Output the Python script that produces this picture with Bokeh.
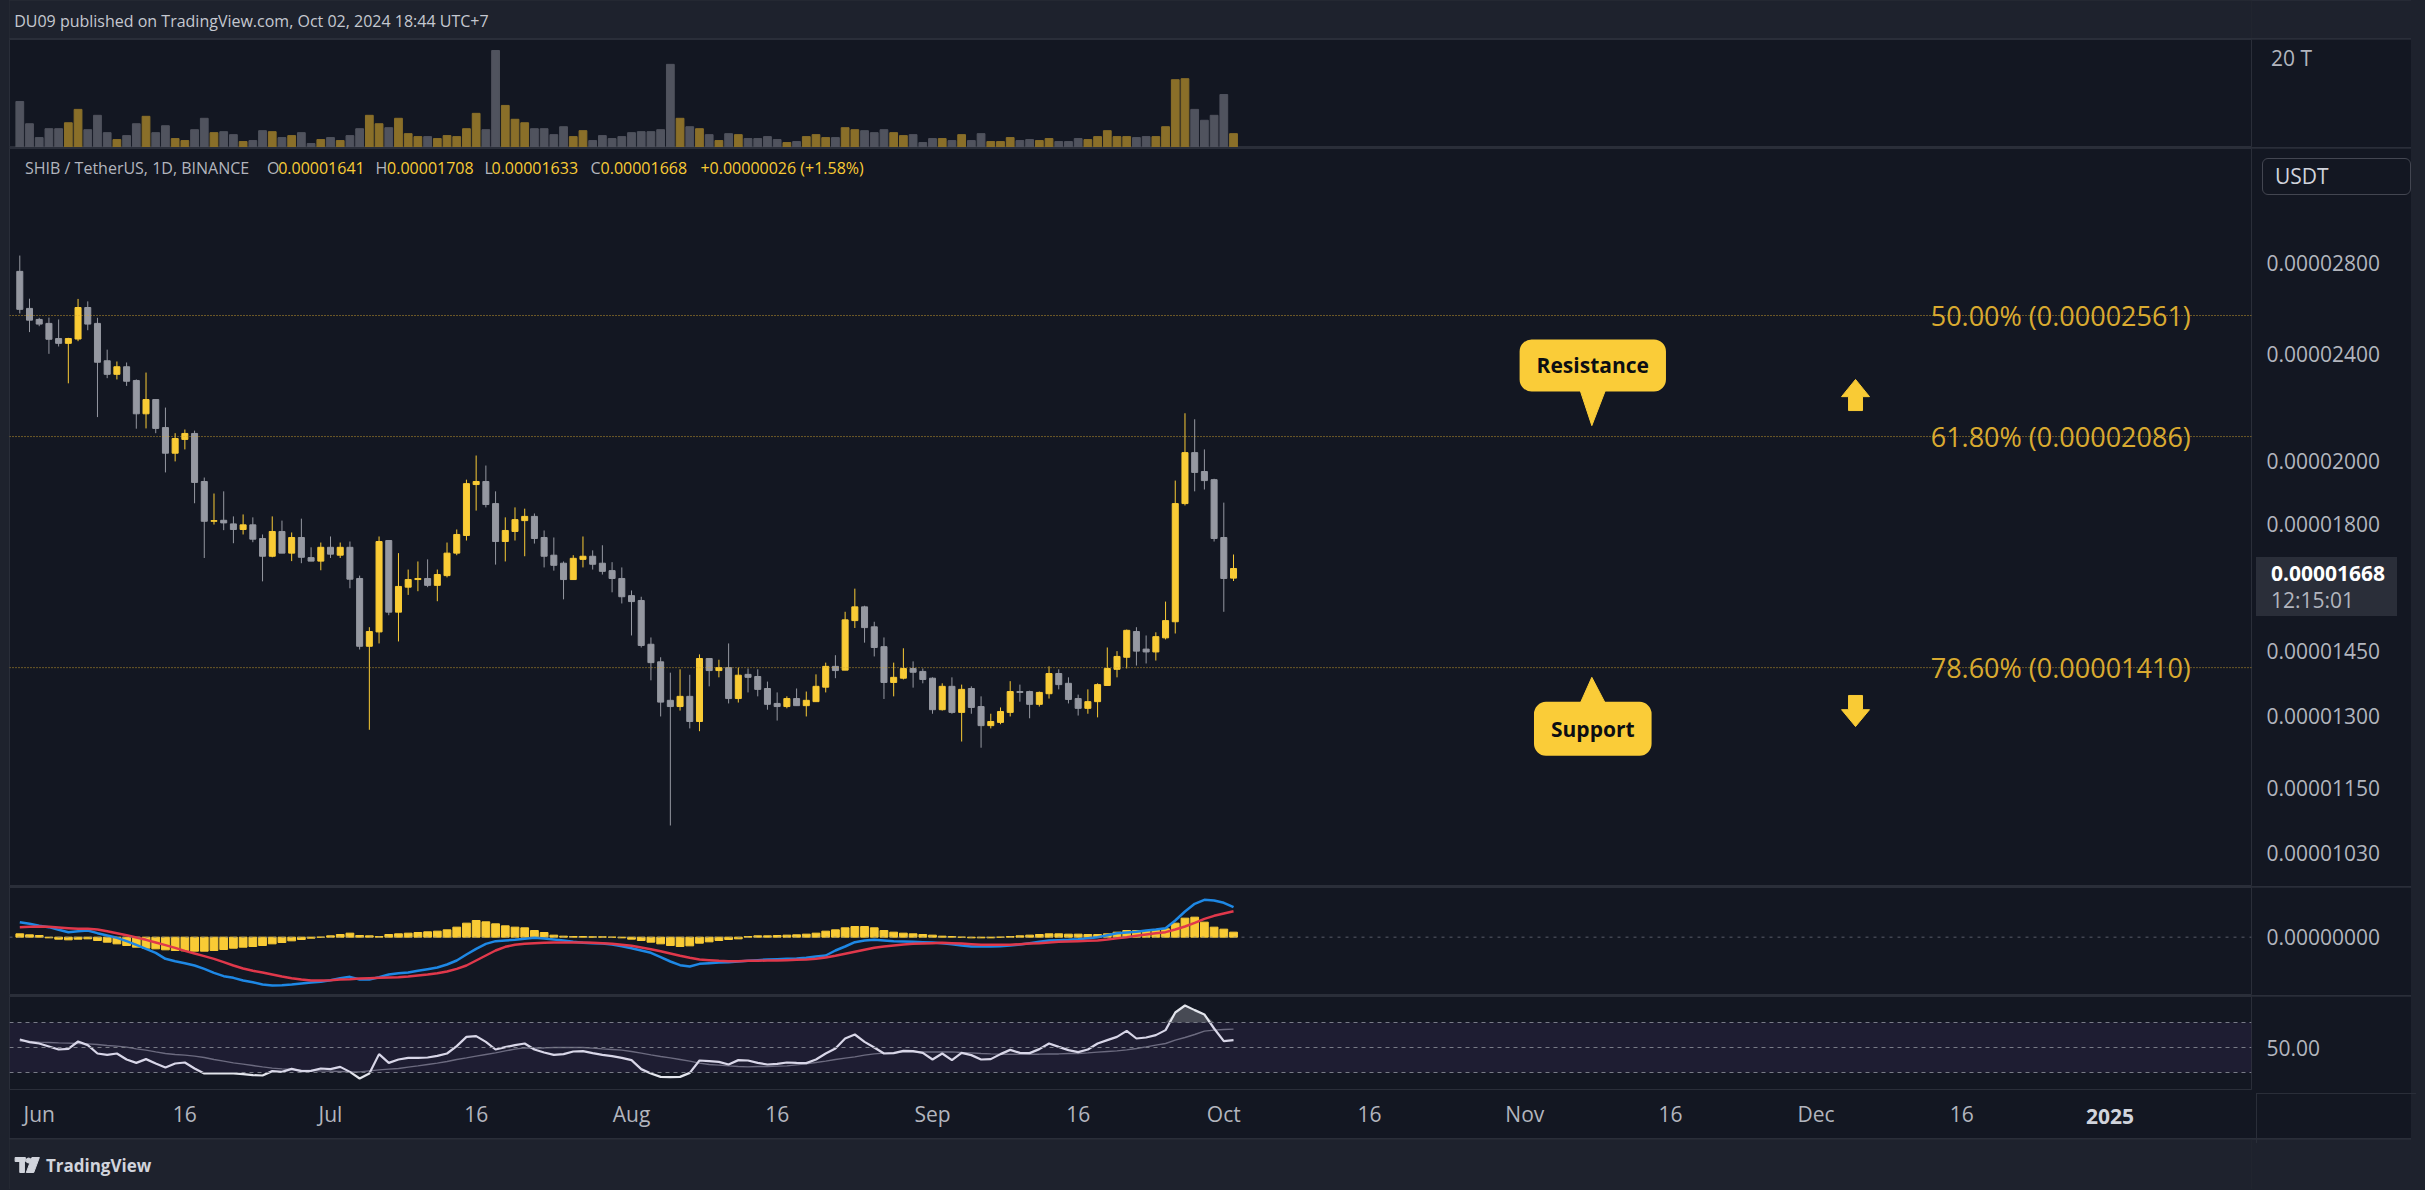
from bokeh.plotting import figure
from bokeh.layouts import column, row
from bokeh.models import (Range1d, FixedTicker, CustomJSTickFormatter, Label, Span, Div, Spacer,
                          BoxAnnotation, ColumnDataSource, GlobalInlineStyleSheet)
from bokeh.embed import file_html
from bokeh.resources import INLINE

# ------------------------------------------------------------------ data
# x = days since 2024-06-01 ; candles from 2024-05-30 to 2024-10-02 (daily)
day_index = list(range(-2, 124))

# prices in units of 1e-6 USDT
opens = [27.60, 25.92, 25.44, 25.27, 24.63, 24.43, 24.61, 25.96, 25.27, 23.72,
         23.18, 23.48, 22.94, 21.68, 22.21, 21.18, 20.28, 20.76, 20.97, 19.33,
         18.07, 18.10, 17.99, 17.82, 17.96, 17.55, 17.03, 17.76, 17.12, 17.58,
         16.99, 16.89, 17.29, 17.06, 17.29, 16.40, 14.62, 14.98, 17.49, 15.49,
         16.16, 16.37, 16.40, 16.21, 16.48, 17.12, 17.64, 19.23, 19.33, 18.62,
         17.46, 17.76, 18.09, 18.22, 17.58, 17.06, 16.83, 16.37, 16.94, 17.03,
         16.83, 16.62, 16.40, 15.93, 15.80, 14.67, 14.24, 13.34, 13.20, 13.43,
         12.87, 14.32, 14.03, 14.10, 13.38, 13.94, 13.89, 13.61, 13.27, 13.20,
         13.38, 13.22, 13.31, 13.64, 14.13, 14.04, 15.27, 15.63, 15.11, 14.61,
         13.75, 13.85, 14.08, 14.01, 13.85, 13.13, 13.66, 13.07, 13.61, 13.20,
         12.78, 12.85, 13.07, 13.54, 13.54, 13.25, 13.49, 13.96, 13.73, 13.38,
         13.16, 13.31, 13.68, 14.06, 14.35, 14.99, 14.55, 14.48, 14.83, 15.24,
         18.62, 20.30, 19.66, 19.39, 17.58, 16.41]
highs = [28.35, 26.35, 25.51, 25.52, 25.44, 24.66, 26.34, 26.23, 25.51, 24.17,
         23.69, 23.65, 22.98, 23.25, 22.21, 21.91, 20.98, 21.11, 21.07, 19.46,
         18.94, 19.01, 18.22, 18.28, 18.19, 17.67, 18.22, 18.09, 17.73, 18.15,
         17.29, 17.43, 17.61, 17.43, 17.46, 16.48, 15.10, 17.61, 17.49, 17.12,
         16.65, 16.88, 16.94, 16.65, 17.43, 17.82, 19.39, 20.20, 19.86, 19.01,
         18.19, 18.50, 18.46, 18.31, 17.79, 17.58, 16.88, 17.06, 17.61, 17.20,
         17.35, 16.86, 16.71, 16.07, 15.90, 14.84, 14.35, 13.98, 14.06, 13.93,
         14.42, 14.32, 14.29, 14.69, 14.10, 14.08, 14.06, 13.77, 13.52, 13.43,
         13.61, 13.54, 13.94, 14.22, 14.40, 15.50, 16.12, 15.66, 15.24, 14.84,
         14.22, 14.57, 14.25, 14.08, 13.87, 13.73, 13.87, 13.70, 13.66, 13.43,
         13.04, 13.18, 13.78, 13.70, 13.56, 13.54, 14.13, 14.06, 13.87, 13.47,
         13.59, 13.73, 14.59, 14.50, 15.04, 15.10, 14.89, 14.97, 15.77, 19.36,
         21.70, 21.48, 20.41, 19.42, 18.65, 17.08]
lows = [25.70, 24.90, 25.15, 24.00, 24.30, 22.83, 24.52, 24.98, 21.56, 23.03,
        22.98, 22.73, 21.14, 21.15, 20.98, 19.63, 20.00, 20.41, 18.63, 16.98,
        17.97, 17.80, 17.41, 17.67, 17.44, 16.32, 17.00, 17.12, 16.89, 16.83,
        16.89, 16.63, 16.98, 16.98, 16.13, 14.54, 12.69, 14.69, 15.41, 14.74,
        15.95, 16.05, 16.16, 15.78, 16.43, 17.06, 17.49, 18.40, 18.50, 16.79,
        16.88, 17.49, 17.03, 17.40, 16.71, 16.62, 15.83, 16.37, 16.71, 16.65,
        16.51, 16.02, 15.72, 14.89, 14.59, 13.80, 12.98, 10.79, 13.11, 12.72,
        12.66, 13.66, 13.87, 13.27, 13.29, 13.52, 13.43, 13.13, 12.89, 13.16,
        13.22, 12.98, 13.31, 13.52, 13.85, 14.04, 15.08, 14.71, 14.37, 13.37,
        13.43, 13.82, 13.63, 13.73, 13.04, 13.11, 13.04, 12.44, 13.04, 12.31,
        12.72, 12.81, 12.98, 13.31, 12.94, 13.20, 13.38, 13.59, 13.27, 13.00,
        13.04, 12.96, 13.68, 13.87, 14.08, 14.15, 14.20, 14.27, 14.79, 14.94,
        18.56, 19.01, 19.07, 17.46, 15.50, 16.33]
closes = [25.88, 25.41, 25.24, 24.60, 24.43, 24.63, 25.96, 25.24, 23.66, 23.18,
          23.48, 22.91, 21.68, 22.21, 21.15, 20.28, 20.79, 20.97, 19.30, 18.07,
          18.09, 18.02, 17.82, 17.96, 17.53, 17.03, 17.76, 17.12, 17.58, 17.00,
          16.89, 17.29, 17.09, 17.29, 16.38, 14.62, 14.99, 17.46, 15.49, 16.18,
          16.37, 16.40, 16.21, 16.51, 17.12, 17.67, 19.26, 19.33, 18.59, 17.46,
          17.79, 18.12, 18.22, 17.55, 17.03, 16.77, 16.37, 16.97, 17.03, 16.80,
          16.60, 16.40, 15.90, 15.77, 14.64, 14.22, 13.30, 13.20, 13.43, 12.87,
          14.32, 14.03, 14.10, 13.38, 13.92, 13.87, 13.59, 13.25, 13.20, 13.38,
          13.22, 13.34, 13.66, 14.13, 14.03, 15.29, 15.63, 15.09, 14.59, 13.75,
          13.87, 14.08, 13.99, 13.82, 13.13, 13.66, 13.07, 13.59, 13.18, 12.78,
          12.87, 13.09, 13.54, 13.52, 13.25, 13.52, 13.96, 13.70, 13.36, 13.16,
          13.31, 13.70, 14.08, 14.37, 15.02, 14.50, 14.48, 14.86, 15.27, 18.62,
          20.30, 19.63, 19.36, 17.55, 16.40, 16.68]

# volume, trillions of SHIB
volume_t = [9.3, 4.8, 2.0, 3.8, 3.8, 5.0, 7.7, 3.6, 6.5, 3.0,
            1.6, 2.4, 4.8, 6.3, 3.0, 4.4, 1.8, 1.4, 3.6, 5.9,
            3.0, 3.2, 2.6, 1.2, 1.4, 3.4, 3.2, 2.0, 2.4, 3.0,
            0.8, 1.6, 2.0, 1.4, 2.4, 3.8, 6.5, 4.8, 4.0, 5.9,
            2.8, 2.2, 2.2, 1.8, 2.4, 2.2, 3.8, 6.9, 3.6, 19.6,
            8.5, 5.7, 5.0, 3.8, 3.8, 2.6, 4.2, 2.2, 3.4, 1.4,
            2.4, 1.8, 2.2, 3.0, 3.2, 3.2, 3.6, 16.8, 5.9, 4.2,
            3.8, 2.6, 1.4, 2.8, 2.6, 1.8, 1.8, 2.2, 1.6, 1.0,
            1.2, 2.2, 2.6, 2.0, 2.0, 4.0, 3.6, 3.4, 3.0, 3.6,
            3.0, 2.4, 2.6, 1.0, 1.8, 1.8, 1.4, 2.6, 1.4, 2.8,
            1.2, 1.2, 2.0, 1.4, 1.6, 1.4, 1.8, 1.2, 1.2, 1.8,
            1.6, 2.2, 3.4, 2.2, 2.2, 2.0, 2.2, 2.2, 4.2, 13.7,
            13.9, 7.7, 5.5, 6.5, 10.7, 2.8]

# MACD pane, in units of 1.2e-8 USDT
macd_line = [45, 40, 34, 30, 22, 15, 18, 20, 12, 5,
             -2, -12, -23, -35, -47, -65, -72, -78, -85, -95,
             -107, -117, -122, -130, -135, -142, -145, -144, -142, -139,
             -136, -134, -129, -123, -119, -127, -127, -120, -112, -108,
             -106, -101, -96, -91, -82, -70, -52, -35, -20, -12,
             -10, -8, -5, -2, -4, -7, -10, -14, -17, -18,
             -19, -22, -27, -33, -40, -47, -60, -73, -84, -88,
             -80, -78, -76, -75, -73, -71, -69, -67, -66, -65,
             -64, -62, -58, -55, -40, -28, -15, -10, -8, -10,
             -12, -13, -14, -15, -16, -18, -21, -25, -28, -28,
             -28, -27, -25, -22, -18, -14, -10, -9, -8, -6,
             -3, 0, 6, 12, 14, 16, 20, 23, 27, 50,
             77, 100, 112, 110, 103, 90]
signal_line = [30, 31, 32, 31, 29, 27, 25, 25, 23, 18,
               12, 6, -1, -8, -16, -24, -32, -41, -49, -57,
               -65, -75, -85, -94, -101, -106, -112, -118, -123, -127,
               -130, -130, -129, -127, -126, -124, -123, -122, -121, -120,
               -118, -115, -112, -108, -103, -95, -85, -70, -55, -40,
               -29, -23, -20, -18, -17, -16, -16, -16, -16, -17,
               -18, -20, -23, -26, -31, -36, -42, -49, -56, -62,
               -67, -69, -71, -72, -72, -71, -71, -70, -70, -69,
               -68, -67, -65, -61, -56, -50, -44, -38, -32, -28,
               -25, -22, -20, -19, -18, -17, -18, -19, -21, -23,
               -23, -23, -23, -21, -19, -18, -16, -14, -13, -12,
               -11, -10, -7, -3, 0, 4, 8, 12, 15, 23,
               32, 43, 55, 64, 71, 78]
macd_hist = [10, 7, 5, -2, -6, -8, -6, -5, -10, -15,
             -20, -25, -30, -33, -35, -38, -40, -41, -42, -42,
             -40, -37, -33, -30, -28, -25, -20, -16, -11, -7,
             -3, 0, 4, 8, 12, 5, 4, 2, 8, 10,
             12, 14, 16, 18, 22, 30, 42, 50, 46, 40,
             34, 30, 28, 20, 14, 6, 3, 2, 2, 1,
             1, 0, -2, -6, -10, -15, -20, -25, -28, -26,
             -18, -14, -10, -7, -5, 2, 4, 4, 5, 6,
             7, 9, 12, 18, 22, 28, 32, 32, 28, 20,
             15, 12, 10, 8, 6, 3, 2, 0, -2, -2,
             -2, 0, 2, 4, 6, 8, 10, 10, 9, 9,
             8, 8, 10, 15, 20, 20, 19, 20, 25, 42,
             57, 60, 45, 30, 24, 15]

rsi = [56.4, 54.3, 53.2, 50.8, 48.4, 48.9, 54.8, 51.9, 45.2, 44.1,
       45.2, 40.4, 37.7, 40.7, 37.2, 34.0, 37.2, 38.0, 33.2, 29.2,
       29.2, 29.2, 29.2, 28.7, 27.9, 27.6, 31.1, 30.5, 32.9, 31.1,
       31.3, 33.2, 32.7, 34.5, 30.5, 25.2, 29.2, 44.7, 37.7, 40.4,
       41.7, 41.7, 42.0, 43.3, 45.2, 51.1, 58.5, 59.1, 54.5, 48.4,
       50.3, 51.9, 53.2, 48.4, 46.0, 44.1, 44.7, 46.8, 47.1, 45.5,
       44.1, 43.1, 41.7, 39.9, 32.7, 29.2, 26.5, 26.3, 26.5, 29.7,
       39.6, 39.1, 38.5, 36.4, 39.9, 39.6, 37.7, 36.4, 36.9, 38.0,
       37.7, 37.5, 40.4, 45.2, 49.2, 57.2, 60.4, 54.5, 50.0, 45.2,
       45.5, 47.3, 47.1, 45.7, 40.4, 45.2, 39.9, 45.7, 43.9, 40.4,
       40.7, 44.7, 48.1, 45.7, 45.5, 48.7, 53.2, 50.5, 47.9, 46.3,
       48.4, 53.2, 55.9, 58.5, 63.3, 57.2, 58.0, 59.9, 63.9, 78.0,
       83.6, 79.9, 76.4, 65.2, 55.1, 55.9]
rsi_ma = [55.1, 54.8, 54.3, 54.0, 53.7, 53.5, 53.2, 52.9, 52.4, 51.6,
          51.1, 50.3, 48.9, 47.9, 46.5, 45.2, 44.4, 43.9, 43.1, 42.0,
          40.4, 39.1, 37.7, 36.7, 35.6, 34.5, 33.5, 32.9, 32.4, 31.9,
          31.6, 31.3, 31.1, 30.8, 30.5, 30.5, 31.3, 32.1, 32.7, 33.2,
          34.3, 35.3, 36.4, 37.5, 38.8, 40.4, 41.7, 43.1, 44.4, 45.7,
          47.3, 48.7, 49.7, 49.7, 49.7, 50.0, 50.0, 50.0, 50.0, 49.5,
          48.9, 48.4, 47.9, 46.8, 45.5, 44.1, 42.8, 41.7, 40.4, 39.1,
          37.5, 36.4, 35.9, 35.3, 34.8, 34.5, 34.8, 34.8, 35.1, 35.3,
          36.1, 36.9, 38.0, 39.1, 40.4, 41.5, 42.5, 43.9, 44.9, 45.5,
          45.7, 46.3, 46.5, 46.5, 46.5, 46.5, 46.5, 46.0, 45.7, 45.2,
          44.9, 44.7, 44.7, 44.7, 44.7, 44.7, 44.9, 44.9, 45.2, 45.2,
          45.7, 46.3, 46.8, 47.3, 48.1, 49.2, 50.5, 51.9, 53.2, 55.9,
          58.0, 60.4, 63.1, 63.9, 64.4, 64.7]

fib_levels = [25.61, 20.86, 14.10]
fib_texts = ["50.00% (0.00002561)", "61.80% (0.00002086)", "78.60% (0.00001410)"]
price_ticks = [28.0, 24.0, 20.0, 18.0, 14.5, 13.0, 11.5, 10.3]
date_ticks = [0, 15, 30, 45, 61, 76, 92, 107, 122, 137, 153, 168, 183, 198, 214]
date_labels = ["Jun", "16", "Jul", "16", "Aug", "16", "Sep", "16", "Oct", "16",
               "Nov", "16", "Dec", "16", "2025"]
volume_tick_label = "20 T"
last_price = 16.68
countdown = "12:15:01"
header_text = "DU09 published on TradingView.com, Oct 02, 2024 18:44 UTC+7"

# ------------------------------------------------------------------ style
BG = "#131722"
OUTER = "#1e222d"
SEP = "#2a2e39"
TXT = "#b2b5be"
UP = "#f9cb35"
DOWN = "#9598a1"
VOL_UP = "#8a6f29"
VOL_DN = "#50535e"
FIB = "#d9aa30"
FONT = "Open Sans"
W = 2402
RB = 160
xr = Range1d(-3.06, 227.84)


def pane(height, yr, ytype="linear", xaxis=False, bottom=0):
    p = figure(width=W, height=height, x_range=xr, y_range=yr, y_axis_type=ytype,
               y_axis_location="right", x_axis_location="below" if xaxis else None,
               output_backend="svg", toolbar_location=None,
               min_border_left=0, min_border_right=RB, min_border_top=0,
               min_border_bottom=bottom, background_fill_color=BG,
               border_fill_color=BG, outline_line_color=SEP)
    p.grid.visible = False
    ax = p.yaxis[0]
    ax.axis_line_color = None
    ax.major_tick_line_color = None
    ax.minor_tick_line_color = None
    ax.major_tick_out = 0
    ax.major_tick_in = 0
    ax.major_label_standoff = 15
    ax.major_label_text_color = TXT
    ax.major_label_text_font = FONT
    ax.major_label_text_font_size = "21px"
    return p


def lab(p, x, y, text, size, color, align="left", baseline="middle", style="normal", **kw):
    p.add_layout(Label(x=x, y=y, text=text, text_font=FONT, text_font_size=f"{size}px",
                       text_color=color, text_align=align, text_baseline=baseline,
                       text_font_style=style, **kw))


up = [c >= o for o, c in zip(opens, closes)]
src = ColumnDataSource(dict(
    x=day_index, open=opens, high=highs, low=lows, close=closes,
    top=[max(o, c) for o, c in zip(opens, closes)],
    bottom=[min(o, c) for o, c in zip(opens, closes)],
    color=[UP if u else DOWN for u in up],
    vcolor=[VOL_UP if u else VOL_DN for u in up],
    vol=volume_t, macd=macd_line, signal=signal_line, hist=macd_hist,
    rsi=rsi, rsi_ma=rsi_ma, rsi_hi=[max(r, 70) for r in rsi],
))

# ------------------------------------------------------------------ header
header = figure(width=W, height=38, x_range=(0, W), y_range=(0, 38),
                x_axis_location=None, y_axis_location=None, output_backend="svg",
                toolbar_location=None, min_border=0, background_fill_color=OUTER,
                border_fill_color=OUTER, outline_line_color=None)
header.grid.visible = False
lab(header, 5, 18, header_text, 16, "#c5c8d0")

# ------------------------------------------------------------------ volume
vol = pane(108, Range1d(0, 21.82))
vol.vbar(x="x", top="vol", bottom=0, width=0.8, color="vcolor", source=src)
vol.yaxis.ticker = FixedTicker(ticks=[20])
vol.yaxis.major_label_overrides = {20: " "}   # label drawn as overlay below

# ------------------------------------------------------------------ price
price = pane(738, Range1d(9.73, 33.99), ytype="log")
price.yaxis.ticker = FixedTicker(ticks=price_ticks)
price.yaxis.formatter = CustomJSTickFormatter(code="return (tick*1e-6).toFixed(8);")
for lvl, txt in zip(fib_levels, fib_texts):
    price.add_layout(Span(location=lvl, dimension="width", line_color=FIB,
                          line_dash="1 2", line_width=1, line_alpha=0.9))
    lab(price, 194.8, lvl, txt, 27, FIB)
price.segment(x0="x", y0="low", x1="x", y1="high", color="color", line_width=1, source=src)
price.vbar(x="x", top="top", bottom="bottom", width=0.62, fill_color="color",
           line_color="color", line_width=1, source=src)

# legend line
ly = 32.91
lab(price, -1.46, ly, "SHIB / TetherUS, 1D, BINANCE", 16, TXT)
for xx, t, col in [(23.46, "O", TXT), (24.61, "0.00001641", UP), (34.63, "H", TXT),
                   (35.83, "0.00001708", UP), (45.86, "L", TXT), (46.58, "0.00001633", UP),
                   (56.78, "C", TXT), (57.81, "0.00001668", UP),
                   (68.1, "+0.00000026 (+1.58%)", UP)]:
    lab(price, xx, ly, t, 16, col)

# callouts
CALL = "#facc38"
lab(price, 160.0, 23.53, "Resistance", 21, "#0c0e13", align="center", style="bold",
    background_fill_color=CALL, padding=dict(left=17, right=17, top=12, bottom=12),
    border_radius=12)
price.patch([158.7, 161.3, 159.9], [22.56, 22.56, 21.25], color=CALL)
lab(price, 160.0, 12.71, "Support", 21, "#0c0e13", align="center", style="bold",
    background_fill_color=CALL, padding=dict(left=17, right=17, top=13, bottom=13),
    border_radius=12)
price.patch([158.7, 161.3, 159.9], [13.27, 13.27, 13.87], color=CALL)
# arrows
ax_, hw, sw = 187.06, 1.44, 0.72
price.patch([ax_ - hw, ax_, ax_ + hw, ax_ + sw, ax_ + sw, ax_ - sw, ax_ - sw],
            [22.32, 22.98, 22.32, 22.32, 21.80, 21.80, 22.32], color=UP)
price.patch([ax_ - hw, ax_, ax_ + hw, ax_ + sw, ax_ + sw, ax_ - sw, ax_ - sw],
            [13.13, 12.76, 13.13, 13.13, 13.45, 13.45, 13.13], color=UP)

# ------------------------------------------------------------------ MACD
mac = pane(108, Range1d(-175, 149))
mac.yaxis.ticker = FixedTicker(ticks=[0])
mac.yaxis.major_label_overrides = {0: "0.00000000"}
mac.add_layout(Span(location=0, dimension="width", line_color="#787b86",
                    line_dash="3 5", line_width=1, line_alpha=0.7))
mac.vbar(x="x", top="hist", bottom=0, width=0.8, color=UP, source=src)
mac.line(x="x", y="macd", color="#1e88e5", line_width=2.5, source=src)
mac.line(x="x", y="signal", color="#e0384b", line_width=2.5, source=src)

# ------------------------------------------------------------------ RSI + date axis
rsip = pane(142, Range1d(16.4, 90.8), xaxis=True, bottom=49)
rsip.yaxis.ticker = FixedTicker(ticks=[50])
rsip.yaxis.major_label_overrides = {50: "50.00"}
rsip.add_layout(BoxAnnotation(bottom=30, top=70, fill_color="#7e57c2", fill_alpha=0.1,
                              line_color=None))
for lv in (70, 50, 30):
    rsip.add_layout(Span(location=lv, dimension="width", line_color="#787b86",
                         line_dash="4 4", line_width=1))
rsip.varea(x="x", y1=70, y2="rsi_hi", color="#9598a1", alpha=0.4, source=src)
rsip.line(x="x", y="rsi_ma", color="#6a6d78", line_width=1.5, source=src)
rsip.line(x="x", y="rsi", color="#e3e5ec", line_width=2.2, source=src)
xa = rsip.xaxis[0]
xa.ticker = FixedTicker(ticks=date_ticks)
xa.major_label_overrides = {t: l for t, l in zip(date_ticks, date_labels)}
xa.axis_line_color = None
xa.major_tick_line_color = None
xa.minor_tick_line_color = None
xa.major_tick_out = 0
xa.major_tick_in = 0
xa.major_label_standoff = 10
xa.major_label_text_color = TXT
xa.major_label_text_font = FONT
xa.major_label_text_font_size = "21px"

# ------------------------------------------------------------------ footer
footer = figure(width=W, height=50, x_range=(0, W), y_range=(0, 50),
                x_axis_location=None, y_axis_location=None, output_backend="svg",
                toolbar_location=None, min_border=0, background_fill_color=OUTER,
                border_fill_color=OUTER, outline_line_color=None)
footer.grid.visible = False
LOGO = "#d1d4dc"
footer.quad(left=[6, 11], right=[17, 16], bottom=[28, 17], top=[32, 32], color=LOGO)
footer.scatter([20.5], [29], size=5, color=LOGO)
footer.patch([24, 32, 26, 18], [32, 32, 17, 17], color=LOGO)
lab(footer, 39, 24, "TradingView", 17, LOGO, style="bold")

col = column(header, vol, price, mac, rsip, footer, spacing=1,
             styles={"background-color": SEP})

# overlays sitting on the price-axis column / date axis (page coordinates)
ABS = {"position": "absolute"}
last_box = Div(
    text=(f'<div style="font-family:\'Open Sans\';font-size:21px;line-height:27px;'
          f'padding:3px 0 0 15px;white-space:nowrap;">'
          f'<div style="color:#ffffff;font-weight:bold;">{last_price * 1e-6:.8f}</div>'
          f'<div style="color:{TXT};">{countdown}</div></div>'),
    width=141, height=59,
    styles=dict(ABS, left="2251px", top="552px", **{"background-color": "#2a2e39"}))
usdt_box = Div(
    text=('<div style="font-family:\'Open Sans\';font-size:21px;line-height:35px;'
          'color:#d1d4dc;padding-left:12px;">USDT</div>'),
    width=149, height=37,
    styles=dict(ABS, left="2257px", top="153px", border="1px solid #434651",
                **{"border-radius": "6px", "box-sizing": "border-box"}))
year_box = Div(
    text=(f'<div style="font-family:\'Open Sans\';font-size:21px;line-height:28px;'
          f'color:#d1d4dc;font-weight:bold;text-align:center;">{date_labels[-1]}</div>'),
    width=66, height=28,
    styles=dict(ABS, left="2081px", top="1097px", **{"background-color": BG}))
vol_label = Div(
    text=(f'<div style="font-family:\'Open Sans\';font-size:21px;line-height:26px;'
          f'color:{TXT};white-space:nowrap;">{volume_tick_label}</div>'),
    width=80, height=26,
    styles=dict(ABS, left="2266px", top="40px"))
axis_vline = Div(text="", width=1, height=49,
                 styles=dict(ABS, left="2251px", top="1089px", **{"background-color": SEP}))
axis_hline = Div(text="", width=160, height=1,
                 styles=dict(ABS, left="2251px", top="1088px", **{"background-color": SEP}))

root = row(Spacer(width=9, height=1189), col, last_box, usdt_box, year_box, vol_label,
           axis_vline, axis_hline,
           styles={"position": "relative"},
           stylesheets=[GlobalInlineStyleSheet(css="body { background-color: #1e222d; }")])

open("out.html", "w").write(file_html(root, INLINE))
